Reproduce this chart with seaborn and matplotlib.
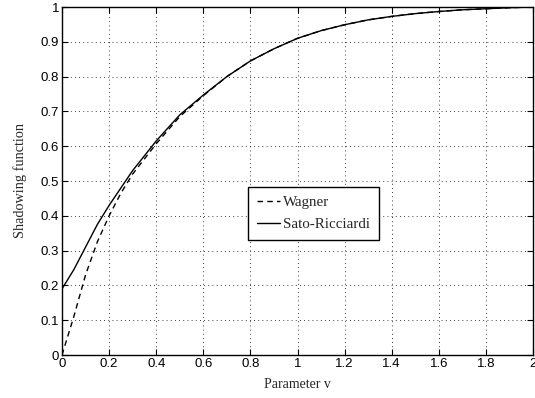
import numpy as np
import pandas as pd
import seaborn as sns
import matplotlib
matplotlib.use("Agg")
import matplotlib.pyplot as plt

# Data
v_sato = [0.0, 0.05, 0.1, 0.15, 0.2, 0.25, 0.3, 0.4, 0.5, 0.6, 0.7, 0.8, 0.9, 1.0,
          1.1, 1.2, 1.3, 1.4, 1.5, 1.6, 1.7, 1.8, 1.9, 2.0]
sato = [0.19, 0.245, 0.31, 0.375, 0.43, 0.48, 0.53, 0.615, 0.69, 0.747, 0.80, 0.845,
        0.88, 0.91, 0.932, 0.949, 0.963, 0.973, 0.981, 0.987, 0.992, 0.995, 0.998, 1.0]
v_wagner = [0.0, 0.05, 0.1, 0.15, 0.2, 0.25, 0.3, 0.4, 0.5, 0.6, 0.7, 0.8, 0.9, 1.0,
            1.1, 1.2, 1.3, 1.4, 1.5, 1.6, 1.7, 1.8, 1.9, 2.0]
wagner = [0.0, 0.11, 0.23, 0.325, 0.40, 0.465, 0.52, 0.607, 0.685, 0.745, 0.80, 0.845,
          0.88, 0.91, 0.932, 0.949, 0.963, 0.973, 0.981, 0.987, 0.992, 0.995, 0.998, 1.0]
x_ticks = [0, 0.2, 0.4, 0.6, 0.8, 1, 1.2, 1.4, 1.6, 1.8, 2]
x_tick_labels = ["0", "0.2", "0.4", "0.6", "0.8", "1", "1.2", "1.4", "1.6", "1.8", "2"]
y_ticks = [0, 0.1, 0.2, 0.3, 0.4, 0.5, 0.6, 0.7, 0.8, 0.9, 1]
y_tick_labels = ["0", "0.1", "0.2", "0.3", "0.4", "0.5", "0.6", "0.7", "0.8", "0.9", "1"]

sns.set_style("white")

fig = plt.figure(figsize=(5.35, 3.98), dpi=100)
ax = fig.add_axes([62/535, 43/398, 471/535, 348/398])

df_w = pd.DataFrame({"v": v_wagner, "s": wagner})
df_s = pd.DataFrame({"v": v_sato, "s": sato})
sns.lineplot(data=df_w, x="v", y="s", ax=ax, color="black", lw=1.0,
             linestyle=(0, (4, 3)), label="Wagner")
sns.lineplot(data=df_s, x="v", y="s", ax=ax, color="black", lw=1.0,
             label="Sato-Ricciardi")

ax.set_xlim(0, 2)
ax.set_ylim(0, 1)
ax.set_xticks(x_ticks)
ax.set_xticklabels(x_tick_labels, family="Liberation Sans", fontsize=9.5)
ax.set_yticks(y_ticks)
ax.set_yticklabels(y_tick_labels, family="Liberation Sans", fontsize=9.5)
ax.tick_params(direction="in", length=4, width=0.8, top=True, right=True,
               bottom=True, left=True, colors="black", pad=2)
ax.grid(True, color="black", linestyle=(0, (1, 4)), linewidth=0.6)
for sp in ax.spines.values():
    sp.set_color("black")
    sp.set_linewidth(1.0)

ax.set_xlabel("Parameter v", family="Liberation Serif", fontsize=10, labelpad=6)
ax.set_ylabel("Shadowing function", family="Liberation Serif", fontsize=10.3, labelpad=10)

leg = ax.legend(loc="lower left", bbox_to_anchor=(0.395, 0.33), fancybox=False,
                frameon=True, edgecolor="black", framealpha=1,
                prop={"family": "Liberation Serif", "size": 10.8},
                handlelength=1.5, borderpad=0.6, labelspacing=0.55, handletextpad=0.25,
                borderaxespad=0)
leg.get_frame().set_linewidth(1.0)

fig.savefig("out.png", dpi=100)
